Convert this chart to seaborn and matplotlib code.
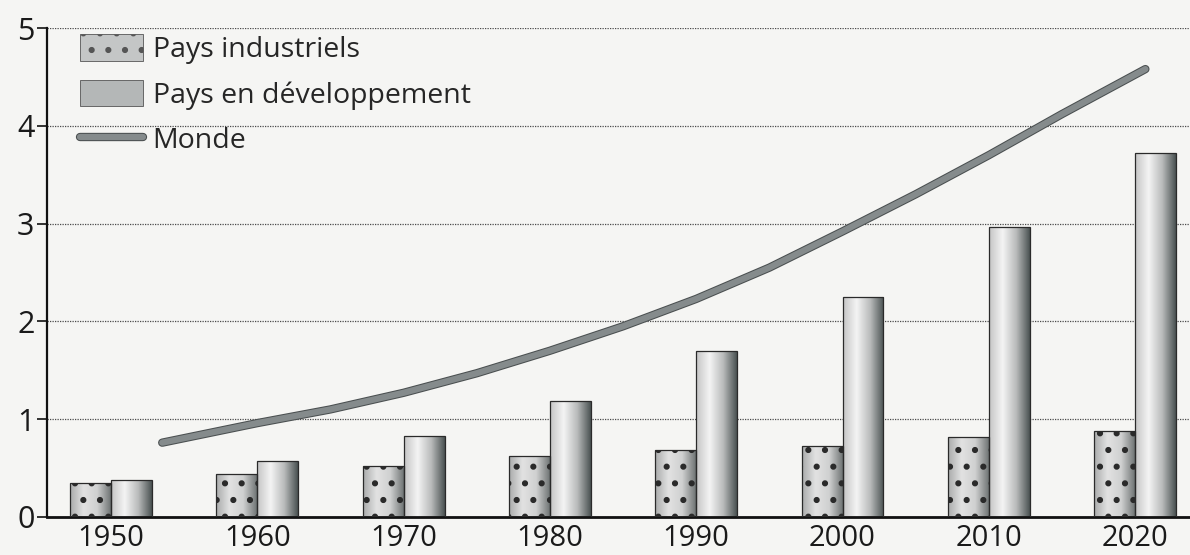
import numpy as np
import pandas as pd
import matplotlib
matplotlib.use('Agg')
import matplotlib.pyplot as plt
import matplotlib.patheffects as pe
from matplotlib.colors import LinearSegmentedColormap
from matplotlib.patches import Patch
from matplotlib.lines import Line2D
import seaborn as sns

# données
annees = ['1950', '1960', '1970', '1980', '1990', '2000', '2010', '2020']
pays_industriels = [0.35, 0.44, 0.52, 0.62, 0.68, 0.73, 0.82, 0.88]
pays_developpement = [0.38, 0.57, 0.83, 1.19, 1.70, 2.25, 2.97, 3.72]
monde_annees = [1953.5, 1960, 1965, 1970, 1975, 1980, 1985, 1990, 1995, 2000, 2005, 2010, 2015, 2020.7]
monde = [0.76, 0.96, 1.10, 1.27, 1.47, 1.70, 1.95, 2.23, 2.55, 2.92, 3.30, 3.70, 4.12, 4.58]
series = ['Pays industriels', 'Pays en développement']

df = pd.DataFrame({
    'annee': annees * 2,
    'valeur': pays_industriels + pays_developpement,
    'serie': [series[0]] * len(annees) + [series[1]] * len(annees),
})

sns.set_style('white')
plt.rcParams['font.family'] = ['Open Sans', 'DejaVu Sans']
plt.rcParams['hatch.color'] = '#1a1a1a'
plt.rcParams['hatch.linewidth'] = 2.0

fig = plt.figure(figsize=(11.9, 5.55), dpi=100, facecolor='#f5f5f3')
ax = fig.add_axes([0.0395, 0.0685, 0.9605, 0.881])
ax.set_facecolor('#f5f5f3')

sns.barplot(data=df, x='annee', y='valeur', hue='serie', order=annees,
            hue_order=series, palette=['#b8b8b8', '#b8b8b8'],
            width=0.56, gap=0, legend=False, ax=ax)

# dégradé « cylindre » sur chaque barre
cmap_ind = LinearSegmentedColormap.from_list('ind', ['#a9abab', '#e2e2e2', '#cfd0d0', '#6f7474'])
cmap_dev = LinearSegmentedColormap.from_list('dev', ['#c4c4c4', '#f4f4f4', '#b9bbbb', '#4a5252'])
grad = np.linspace(0, 1, 256).reshape(1, -1)
for cont, cmap, hatch in zip(ax.containers, [cmap_ind, cmap_dev], ['.', None]):
    for bar in cont:
        x, y, w, h = bar.get_x(), bar.get_y(), bar.get_width(), bar.get_height()
        im = ax.imshow(grad, extent=[x, x + w, y, y + h], aspect='auto',
                       cmap=cmap, zorder=2, interpolation='bilinear')
        im.set_clip_path(bar)
        bar.set_facecolor('none')
        bar.set_edgecolor('#2a2a2a')
        bar.set_linewidth(0.9)
        bar.set_zorder(3)
        if hatch:
            bar.set_hatch(hatch)

# courbe Monde
trait = [pe.Stroke(linewidth=6, foreground='#4a4f50'), pe.Normal()]
x_monde = [(a - 1950) / 10 for a in monde_annees]
sns.lineplot(x=x_monde, y=monde, color='#858b8c', linewidth=4.5, ax=ax,
             zorder=4, path_effects=trait)

ax.set_xlim(-0.4375, 7.375)
ax.set_ylim(0, 5)
ax.set_yticks([0, 1, 2, 3, 4, 5])
ax.yaxis.grid(True, linestyle=(0, (1, 1)), color='#4a4a4a', linewidth=0.9)
ax.set_axisbelow(True)
ax.set_xlabel('')
ax.set_ylabel('')

for s in ['top', 'right']:
    ax.spines[s].set_visible(False)
ax.spines['left'].set_color('#111')
ax.spines['left'].set_linewidth(1.6)
ax.spines['bottom'].set_color('#111')
ax.spines['bottom'].set_linewidth(2.0)
ax.tick_params(axis='y', length=7, width=1.2, color='#111', labelsize=22, pad=2, left=True)
ax.tick_params(axis='x', length=0, labelsize=21, pad=5)
for t in ax.get_xticklabels() + ax.get_yticklabels():
    t.set_color('#1a1a1a')

handles = [
    Patch(facecolor='#c4c6c6', edgecolor='#555', hatch='.', linewidth=0.6),
    Patch(facecolor='#b4b7b7', edgecolor='#555', linewidth=0.6),
    Line2D([], [], color='#858b8c', linewidth=4.5, path_effects=trait),
]
ax.legend(handles, series + ['Monde'], loc='upper left', bbox_to_anchor=(0.0115, 1.028),
          frameon=False, fontsize=20.5, handlelength=2.2, handleheight=1.05,
          handletextpad=0.35, labelspacing=0.55, borderpad=0.2)

fig.savefig('out.png', dpi=100, facecolor=fig.get_facecolor())
